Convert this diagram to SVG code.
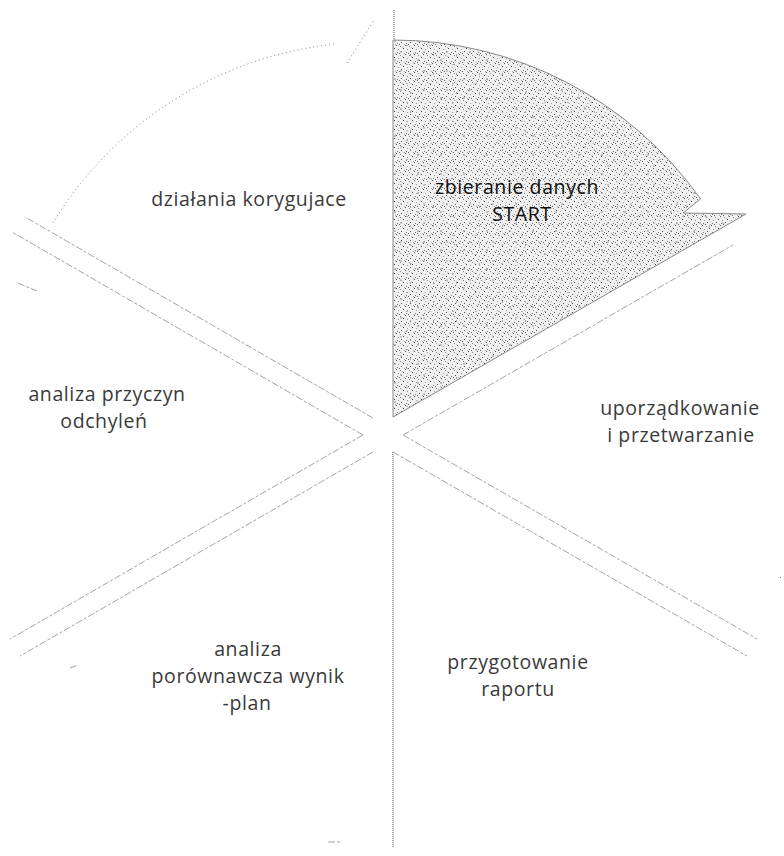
<svg xmlns="http://www.w3.org/2000/svg" width="784" height="856" viewBox="0 0 784 856">
<defs>
<pattern id="stip" width="9" height="9" patternUnits="userSpaceOnUse">
<rect width="9" height="9" fill="#f0f0f0"/>
<rect x="0" y="0" width="1" height="1" fill="#555"/>
<rect x="4" y="1" width="1" height="1" fill="#8a8a8a"/>
<rect x="7" y="3" width="1" height="1" fill="#444"/>
<rect x="2" y="4" width="1" height="1" fill="#9a9a9a"/>
<rect x="5" y="6" width="1" height="1" fill="#555"/>
<rect x="1" y="7" width="1" height="1" fill="#777"/>
<rect x="8" y="8" width="1" height="1" fill="#aaa"/>
<rect x="6" y="2" width="1" height="1" fill="#c4c4c4"/>
<rect x="3" y="8" width="1" height="1" fill="#666"/>
</pattern>
<pattern id="blot" width="23" height="19" patternUnits="userSpaceOnUse">
<rect x="3" y="2" width="2" height="2" fill="#999" opacity="0.6"/>
<rect x="15" y="7" width="2" height="1" fill="#888" opacity="0.6"/>
<rect x="9" y="13" width="2" height="2" fill="#aaa" opacity="0.6"/>
<rect x="19" y="16" width="1" height="2" fill="#777" opacity="0.6"/>
</pattern>
<style>
.edge{fill:none;stroke:#a3a3a3;stroke-width:1;stroke-dasharray:7 2 3 2}
.vert{fill:none;stroke:#555;stroke-width:1;stroke-dasharray:1 1}
.arc{fill:none;stroke:#777;stroke-width:1;stroke-dasharray:1 3}
.lbl{font-family:"Open Sans","DejaVu Sans",sans-serif;font-size:19.5px;letter-spacing:0.6px;fill:#3a3a3a;text-anchor:middle}
</style>
</defs>
<rect width="784" height="856" fill="#fff"/>

<g id="connectors">
<line class="vert" x1="394" y1="10" x2="394" y2="417"/>
<line class="vert" x1="393" y1="452" x2="393" y2="848"/>
<line class="edge" x1="403" y1="435" x2="733" y2="245"/>
<line class="edge" x1="403" y1="435" x2="757" y2="639"/>
<line class="edge" x1="393" y1="452" x2="747" y2="656"/>
<line class="edge" x1="373" y1="452" x2="20" y2="656"/>
<line class="edge" x1="363" y1="435" x2="12" y2="232"/>
<line class="edge" x1="363" y1="435" x2="10" y2="639"/>
<line class="edge" x1="373" y1="418" x2="25" y2="217"/>
<path class="arc" d="M53,223 A376,376 0 0 1 336,44"/>
<line class="arc" x1="347" y1="63" x2="374" y2="20"/>
<line class="edge" x1="18" y1="283" x2="37" y2="291"/>
<line class="edge" x1="70" y1="668" x2="78" y2="665"/>
<line class="edge" x1="328" y1="842" x2="340" y2="842"/>
<rect x="780" y="577" width="1" height="1" fill="#888"/>
</g>

<g id="node-zbieranie">
<path d="M393,417 L393,40 A377,377 0 0 1 700.6,199 L683,213 L746,214 Z" fill="url(#stip)" stroke="#8a8a8a" stroke-width="1"/>
<path d="M393,417 L393,40 A377,377 0 0 1 700.6,199 L683,213 L746,214 Z" fill="url(#blot)"/>
<text class="lbl" x="517" y="194" style="fill:#111">zbieranie danych</text>
<text class="lbl" x="522" y="221" style="fill:#111">START</text>
</g>

<g id="node-dzialania">
<text class="lbl" x="249" y="206">działania korygujace</text>
</g>

<g id="node-uporzadkowanie">
<text class="lbl" x="680" y="415">uporządkowanie</text>
<text class="lbl" x="681" y="442">i przetwarzanie</text>
</g>

<g id="node-analiza-przyczyn">
<text class="lbl" x="107" y="401">analiza przyczyn</text>
<text class="lbl" x="104" y="428">odchyleń</text>
</g>

<g id="node-analiza-porownawcza">
<text class="lbl" x="248" y="656">analiza</text>
<text class="lbl" x="248" y="683">porównawcza wynik</text>
<text class="lbl" x="247" y="710">-plan</text>
</g>

<g id="node-przygotowanie">
<text class="lbl" x="518" y="669">przygotowanie</text>
<text class="lbl" x="518" y="696">raportu</text>
</g>
</svg>
